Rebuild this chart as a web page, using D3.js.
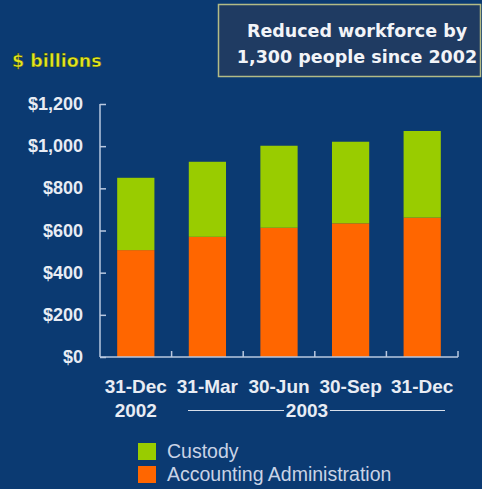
<!DOCTYPE html>
<html>
<head>
<meta charset="utf-8">
<script src="https://cdn.jsdelivr.net/npm/d3@7"></script>
<style>
  html, body { margin: 0; padding: 0; background: #0b3a72; }
  svg { display: block; }
</style>
</head>
<body>
<div id="chart"></div>
<script>
// Quarter-end dates and year groupings
const categories = ["31-Dec", "31-Mar", "30-Jun", "30-Sep", "31-Dec"];
// Assets under administration, $ billions
const accountingAdministration = [507, 570, 613, 634, 661];
const custody = [343, 356, 389, 387, 411];
const yTicks = [0, 200, 400, 600, 800, 1000, 1200];
const seriesNames = ["Custody", "Accounting Administration"];
const seriesColors = ["#99cc00", "#ff6600"];

const W = 482, H = 489;
const svg = d3.select("#chart").append("svg").attr("width", W).attr("height", H);
svg.append("rect").attr("width", W).attr("height", H).attr("fill", "#0b3a72");

const plot = { left: 100, right: 458, top: 104, bottom: 357 };
const x = d3.scaleBand().domain(d3.range(categories.length))
  .range([plot.left, plot.right]).paddingInner(0.48).paddingOuter(0.24);
const y = d3.scaleLinear().domain([0, 1200]).range([plot.bottom, plot.top]);

const axisColor = "#b9c8e0";
const sans = "'Liberation Sans', Arial, sans-serif";
const rounded = "'DejaVu Sans', Verdana, sans-serif";

// Stacked bars
const rows = categories.map((c, i) => ({ i, acc: accountingAdministration[i], cus: custody[i] }));
const stack = d3.stack().keys(["acc", "cus"])(rows);
const colorFor = { acc: seriesColors[1], cus: seriesColors[0] };
svg.append("g").selectAll("g").data(stack).join("g")
  .attr("fill", d => colorFor[d.key])
  .selectAll("rect").data(d => d).join("rect")
  .attr("x", d => x(d.data.i))
  .attr("width", x.bandwidth())
  .attr("y", d => y(d[1]))
  .attr("height", d => y(d[0]) - y(d[1]));

// Y axis with inward ticks
const yAxis = svg.append("g").attr("transform", `translate(${plot.left},0)`)
  .call(d3.axisRight(y).tickValues(yTicks).tickSize(6).tickFormat(""));
yAxis.select(".domain").remove();
yAxis.selectAll("line").attr("stroke", axisColor).attr("stroke-width", 1.5);
svg.append("line").attr("x1", plot.left).attr("x2", plot.left)
  .attr("y1", plot.top).attr("y2", plot.bottom)
  .attr("stroke", axisColor).attr("stroke-width", 1.5);

// Y tick labels
svg.append("g").selectAll("text").data(yTicks).join("text")
  .attr("x", 83).attr("y", d => y(d) + 6)
  .attr("text-anchor", "end")
  .attr("font-family", sans).attr("font-weight", "bold")
  .attr("font-size", 18).attr("fill", "#e8ecf4")
  .text(d => "$" + d3.format(",")(d));

// X axis baseline with upward ticks between categories
svg.append("line").attr("x1", plot.left).attr("x2", plot.right)
  .attr("y1", plot.bottom).attr("y2", plot.bottom)
  .attr("stroke", axisColor).attr("stroke-width", 1.5);
const bandEdges = d3.range(1, categories.length + 1).map(i =>
  i < categories.length ? x(i) - x.step() * x.paddingInner() / 2 : plot.right);
svg.append("g").selectAll("line").data(bandEdges).join("line")
  .attr("x1", d => d).attr("x2", d => d)
  .attr("y1", plot.bottom).attr("y2", plot.bottom - 6)
  .attr("stroke", axisColor).attr("stroke-width", 1.5);

// Category labels
svg.append("g").selectAll("text").data(categories).join("text")
  .attr("x", (d, i) => x(i) + x.bandwidth() / 2).attr("y", 393)
  .attr("text-anchor", "middle")
  .attr("font-family", sans).attr("font-weight", "bold")
  .attr("font-size", 19).attr("fill", "#e8ecf4")
  .text(d => d);

// Year labels
const yearY = 417;
svg.append("text").attr("x", x(0) + x.bandwidth() / 2).attr("y", yearY)
  .attr("text-anchor", "middle").attr("font-family", sans).attr("font-weight", "bold")
  .attr("font-size", 19).attr("fill", "#e8ecf4").text("2002");
svg.append("text").attr("x", 307).attr("y", yearY)
  .attr("text-anchor", "middle").attr("font-family", sans).attr("font-weight", "bold")
  .attr("font-size", 19).attr("fill", "#e8ecf4").text("2003");
svg.append("line").attr("x1", 188).attr("x2", 284).attr("y1", 410.5).attr("y2", 410.5)
  .attr("stroke", "#d8dfea").attr("stroke-width", 1.2);
svg.append("line").attr("x1", 330).attr("x2", 445).attr("y1", 410.5).attr("y2", 410.5)
  .attr("stroke", "#d8dfea").attr("stroke-width", 1.2);

// Legend
const legend = svg.append("g").selectAll("g").data(seriesNames).join("g")
  .attr("transform", (d, i) => `translate(138,${443 + i * 23})`);
legend.append("rect").attr("width", 18).attr("height", 17).attr("fill", (d, i) => seriesColors[i]);
legend.append("text").attr("x", 29).attr("y", 15)
  .attr("font-family", sans)
  .attr("font-size", 19.5).attr("fill", "#c9d3e6")
  .text(d => d);

// Unit label
svg.append("text").attr("x", 12).attr("y", 67)
  .attr("font-family", rounded).attr("font-weight", "bold")
  .attr("font-size", 17.5).attr("fill", "#e2e61e")
  .attr("stroke", "#1a2a10").attr("stroke-width", 0.4)
  .text("$ billions");

// Callout box
svg.append("rect").attr("x", 218.5).attr("y", 4.5).attr("width", 262).attr("height", 72)
  .attr("fill", "#1f3b62").attr("stroke", "#b3bb86").attr("stroke-width", 1.5);
svg.append("g").selectAll("text").data(["Reduced workforce by", "1,300 people since 2002"]).join("text")
  .attr("x", 357).attr("y", (d, i) => 37 + i * 26)
  .attr("text-anchor", "middle")
  .attr("font-family", rounded).attr("font-weight", "bold")
  .attr("font-size", 17.5).attr("fill", "#f2f4f8")
  .text(d => d);
</script>
</body>
</html>
